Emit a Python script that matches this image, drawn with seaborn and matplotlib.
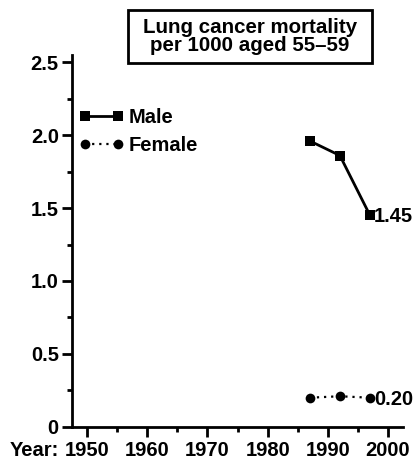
import matplotlib
matplotlib.use('Agg')
import matplotlib.pyplot as plt
import matplotlib.ticker as mticker
from matplotlib.patches import Rectangle
import seaborn as sns
import pandas as pd

# ── Datos ──────────────────────────────────────────────────────────
years = [1987, 1992, 1997]
male = [1.96, 1.86, 1.45]
female = [0.20, 0.21, 0.20]
x_ticks = [1950, 1960, 1970, 1980, 1990, 2000]
y_ticks = [0, 0.5, 1.0, 1.5, 2.0, 2.5]
y_tick_labels = ['0', '0.5', '1.0', '1.5', '2.0', '2.5']

# ── Estilo ─────────────────────────────────────────────────────────
sns.set_style('ticks')
plt.rcParams['font.family'] = ['Liberation Sans', 'DejaVu Sans']
plt.rcParams['font.weight'] = 'bold'
plt.rcParams['text.color'] = 'black'
plt.rcParams['axes.edgecolor'] = 'black'
plt.rcParams['xtick.color'] = 'black'
plt.rcParams['ytick.color'] = 'black'

FS = 14.5

fig = plt.figure(figsize=(4.19, 4.61), dpi=100)
ax = fig.add_axes([0.172, 0.074, 0.79, 0.807])

df_m = pd.DataFrame({'year': years, 'rate': male})
df_f = pd.DataFrame({'year': years, 'rate': female})

sns.lineplot(data=df_m, x='year', y='rate', ax=ax, color='black',
             linewidth=2, marker='s', markersize=7.5, markeredgewidth=0,
             label='Male')
sns.lineplot(data=df_f, x='year', y='rate', ax=ax, color='black',
             linewidth=1.6, linestyle=(0, (1, 2.2)), marker='o',
             markersize=7, markeredgewidth=0, label='Female')

# valores finales
ax.text(years[-1] + 0.7, male[-1] - 0.01, f'{male[-1]:.2f}', va='center',
        ha='left', fontsize=FS, fontweight='bold')
ax.text(years[-1] + 0.7, female[-1] - 0.01, f'{female[-1]:.2f}', va='center',
        ha='left', fontsize=FS, fontweight='bold')

ax.set_xlim(1947.5, 2002.5)
ax.set_ylim(0, 2.55)
ax.set_xticks(x_ticks)
ax.set_xticks(range(1955, 2001, 10), minor=True)
ax.set_yticks(y_ticks)
ax.set_yticklabels(y_tick_labels)
ax.yaxis.set_minor_locator(mticker.MultipleLocator(0.25))
ax.tick_params(which='major', length=7, width=2, labelsize=FS)
ax.tick_params(axis='x', which='major', pad=3)
ax.tick_params(axis='y', which='major', pad=2.5)
ax.tick_params(which='minor', length=3.6, width=2)
for s in ['top', 'right']:
    ax.spines[s].set_visible(False)
for s in ['left', 'bottom']:
    ax.spines[s].set_linewidth(2)
ax.set_xlabel('')
ax.set_ylabel('')

leg = ax.legend(loc='upper left', bbox_to_anchor=(0.021, 0.856),
                frameon=False, numpoints=2, handlelength=2.25,
                handletextpad=0.2, labelspacing=0.45, fontsize=FS,
                borderpad=0, borderaxespad=0)

# etiqueta "Year:" alineada con las etiquetas del eje x
ylab = ax.get_xticklabels()[0]
fig.canvas.draw()
bb = ylab.get_window_extent()
fig.text(0.024, bb.y1 / fig.bbox.height, 'Year:', fontsize=FS,
         fontweight='bold', ha='left', va='top')

# título en caja
fig.add_artist(Rectangle((0.306, 0.864), 0.582, 0.114, fill=False,
                         linewidth=2, edgecolor='black',
                         transform=fig.transFigure))
fig.text(0.597, 0.921, 'Lung cancer mortality\nper 1000 aged 55\u201359',
         ha='center', va='center', fontsize=14.8, fontweight='bold',
         linespacing=0.92)

plt.savefig('out.png', dpi=100)
